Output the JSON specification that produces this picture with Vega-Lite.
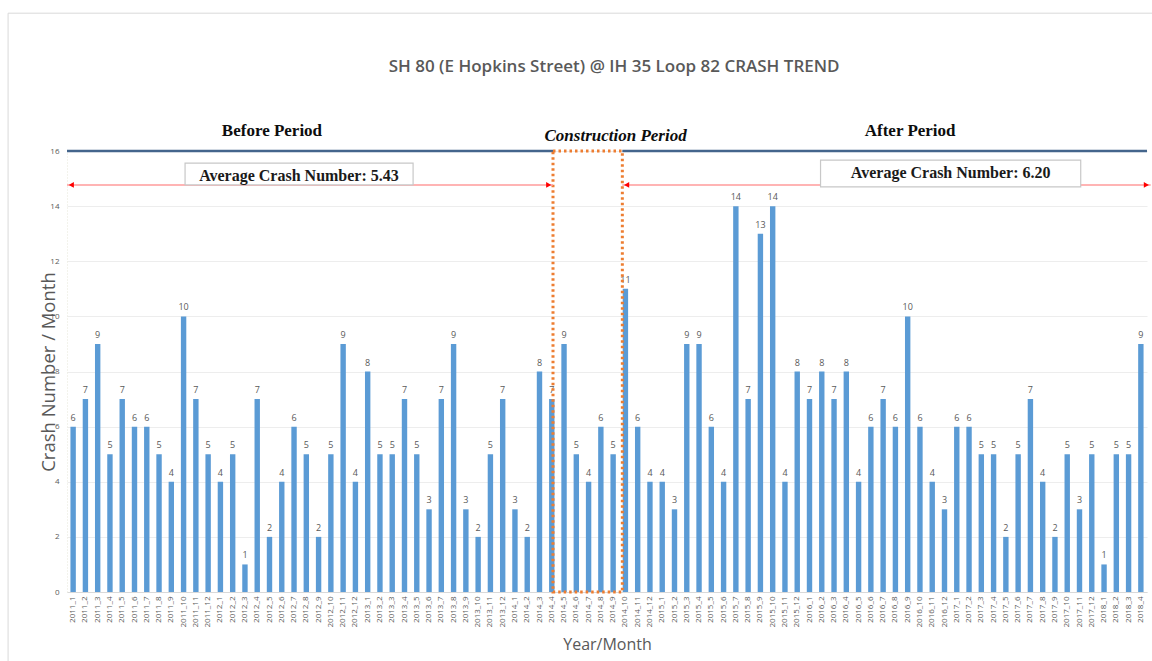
{
  "$schema": "https://vega.github.io/schema/vega-lite/v6.json",
  "autosize": {"type": "none"},
  "width": 1080,
  "height": 441,
  "padding": {"left": 67, "top": 151, "right": 5, "bottom": 69},
  "background": "white",
  "datasets": {
    "crashes": [
      {"month": "2011_1", "crashes": 6}, {"month": "2011_2", "crashes": 7}, {"month": "2011_3", "crashes": 9}, {"month": "2011_4", "crashes": 5},
      {"month": "2011_5", "crashes": 7}, {"month": "2011_6", "crashes": 6}, {"month": "2011_7", "crashes": 6}, {"month": "2011_8", "crashes": 5},
      {"month": "2011_9", "crashes": 4}, {"month": "2011_10", "crashes": 10}, {"month": "2011_11", "crashes": 7}, {"month": "2011_12", "crashes": 5},
      {"month": "2012_1", "crashes": 4}, {"month": "2012_2", "crashes": 5}, {"month": "2012_3", "crashes": 1}, {"month": "2012_4", "crashes": 7},
      {"month": "2012_5", "crashes": 2}, {"month": "2012_6", "crashes": 4}, {"month": "2012_7", "crashes": 6}, {"month": "2012_8", "crashes": 5},
      {"month": "2012_9", "crashes": 2}, {"month": "2012_10", "crashes": 5}, {"month": "2012_11", "crashes": 9}, {"month": "2012_12", "crashes": 4},
      {"month": "2013_1", "crashes": 8}, {"month": "2013_2", "crashes": 5}, {"month": "2013_3", "crashes": 5}, {"month": "2013_4", "crashes": 7},
      {"month": "2013_5", "crashes": 5}, {"month": "2013_6", "crashes": 3}, {"month": "2013_7", "crashes": 7}, {"month": "2013_8", "crashes": 9},
      {"month": "2013_9", "crashes": 3}, {"month": "2013_10", "crashes": 2}, {"month": "2013_11", "crashes": 5}, {"month": "2013_12", "crashes": 7},
      {"month": "2014_1", "crashes": 3}, {"month": "2014_2", "crashes": 2}, {"month": "2014_3", "crashes": 8}, {"month": "2014_4", "crashes": 7},
      {"month": "2014_5", "crashes": 9}, {"month": "2014_6", "crashes": 5}, {"month": "2014_7", "crashes": 4}, {"month": "2014_8", "crashes": 6},
      {"month": "2014_9", "crashes": 5}, {"month": "2014_10", "crashes": 11}, {"month": "2014_11", "crashes": 6}, {"month": "2014_12", "crashes": 4},
      {"month": "2015_1", "crashes": 4}, {"month": "2015_2", "crashes": 3}, {"month": "2015_3", "crashes": 9}, {"month": "2015_4", "crashes": 9},
      {"month": "2015_5", "crashes": 6}, {"month": "2015_6", "crashes": 4}, {"month": "2015_7", "crashes": 14}, {"month": "2015_8", "crashes": 7},
      {"month": "2015_9", "crashes": 13}, {"month": "2015_10", "crashes": 14}, {"month": "2015_11", "crashes": 4}, {"month": "2015_12", "crashes": 8},
      {"month": "2016_1", "crashes": 7}, {"month": "2016_2", "crashes": 8}, {"month": "2016_3", "crashes": 7}, {"month": "2016_4", "crashes": 8},
      {"month": "2016_5", "crashes": 4}, {"month": "2016_6", "crashes": 6}, {"month": "2016_7", "crashes": 7}, {"month": "2016_8", "crashes": 6},
      {"month": "2016_9", "crashes": 10}, {"month": "2016_10", "crashes": 6}, {"month": "2016_11", "crashes": 4}, {"month": "2016_12", "crashes": 3},
      {"month": "2017_1", "crashes": 6}, {"month": "2017_2", "crashes": 6}, {"month": "2017_3", "crashes": 5}, {"month": "2017_4", "crashes": 5},
      {"month": "2017_5", "crashes": 2}, {"month": "2017_6", "crashes": 5}, {"month": "2017_7", "crashes": 7}, {"month": "2017_8", "crashes": 4},
      {"month": "2017_9", "crashes": 2}, {"month": "2017_10", "crashes": 5}, {"month": "2017_11", "crashes": 3}, {"month": "2017_12", "crashes": 5},
      {"month": "2018_1", "crashes": 1}, {"month": "2018_2", "crashes": 5}, {"month": "2018_3", "crashes": 5}, {"month": "2018_4", "crashes": 9}
    ],
    "frame": [{"x": -4.8, "x2": 88.6, "y": -2.6, "y2": 21.0}],
    "chartTitle": [{"x": 44.58, "y": 19.05, "label": "SH 80 (E Hopkins Street) @ IH 35 Loop 82 CRASH TREND"}],
    "topLine": [
      {"x": 0, "x2": 39.6, "y": 16},
      {"x": 45.25, "x2": 88, "y": 16}
    ],
    "construction": [{"x": 39.6, "x2": 45.25, "y": 0, "y2": 16}],
    "arrows": [
      {"x": 0, "x2": 39.6, "y": 14.77},
      {"x": 45.25, "x2": 88.3, "y": 14.77}
    ],
    "arrowHeads": [
      {"x": 0.35, "y": 14.77, "dir": "left"},
      {"x": 39.25, "y": 14.77, "dir": "right"},
      {"x": 45.6, "y": 14.77, "dir": "left"},
      {"x": 87.95, "y": 14.77, "dir": "right"}
    ],
    "avgBoxes": [
      {"x": 9.62, "x2": 28.2, "y": 14.77, "y2": 15.56, "tx": 18.9, "ty": 15.1, "label": "Average Crash Number: 5.43"},
      {"x": 61.4, "x2": 82.6, "y": 14.7, "y2": 15.67, "tx": 72.0, "ty": 15.2, "label": "Average Crash Number: 6.20"}
    ],
    "periods": [
      {"x": 16.7, "y": 16.72, "label": "Before Period", "kind": "normal"},
      {"x": 44.7, "y": 16.54, "label": "Construction Period", "kind": "italic"},
      {"x": 68.7, "y": 16.72, "label": "After Period", "kind": "normal"}
    ]
  },
  "layer": [
    {
      "data": {"name": "crashes"},
      "layer": [
        {
          "mark": {"type": "bar", "color": "#5B9BD5"},
          "encoding": {
            "x": {
              "field": "month", "type": "ordinal", "sort": null,
              "scale": {"paddingInner": 0.56, "paddingOuter": 0.28},
              "axis": {
                "title": "Year/Month",
                "titleFont": "Open Sans", "titleFontSize": 16, "titleFontWeight": "normal", "titleColor": "#595959",
                "titlePadding": 10,
                "labelAngle": -90, "labelFont": "Open Sans", "labelFontSize": 8, "labelColor": "#595959",
                "labelPadding": 4, "ticks": false,
                "domainColor": "#D9D9D9", "domainWidth": 1
              }
            },
            "y": {
              "field": "crashes", "type": "quantitative",
              "scale": {"domain": [0, 16], "nice": false},
              "axis": {
                "title": "Crash Number / Month",
                "titleFont": "Open Sans", "titleFontSize": 18.5, "titleFontWeight": "normal", "titleColor": "#595959",
                "titleX": -19, "titleY": 220.5, "titleBaseline": "middle", "titleAlign": "center", "titleAngle": -90,
                "values": [0, 2, 4, 6, 8, 10, 12, 14, 16],
                "labelFont": "Open Sans", "labelFontSize": 8, "labelColor": "#595959", "labelPadding": 8,
                "ticks": false,
                "domain": true, "domainColor": "#E6E6D8", "domainDash": [1, 2],
                "grid": true, "gridColor": "#EDEDED", "gridWidth": 1
              }
            }
          }
        },
        {
          "mark": {"type": "text", "font": "Open Sans", "fontSize": 9, "color": "#595959", "baseline": "bottom", "dy": -4},
          "encoding": {
            "x": {"field": "month", "type": "ordinal", "sort": null},
            "y": {"field": "crashes", "type": "quantitative"},
            "text": {"field": "crashes", "type": "quantitative"}
          }
        }
      ]
    },
    {
      "data": {"name": "frame"},
      "mark": {"type": "rect", "fill": null, "stroke": "#D9D9D9", "strokeWidth": 1, "clip": false},
      "encoding": {
        "x": {"field": "x", "type": "quantitative", "scale": {"domain": [0, 88], "nice": false, "zero": false}, "axis": null},
        "x2": {"field": "x2"},
        "y": {"field": "y", "type": "quantitative"},
        "y2": {"field": "y2"}
      }
    },
    {
      "data": {"name": "chartTitle"},
      "mark": {"type": "text", "font": "Open Sans", "fontSize": 17, "fontWeight": 600, "color": "#595959", "baseline": "middle", "align": "center", "clip": false},
      "encoding": {
        "x": {"field": "x", "type": "quantitative", "scale": {"domain": [0, 88], "nice": false, "zero": false}, "axis": null},
        "y": {"field": "y", "type": "quantitative"},
        "text": {"field": "label"}
      }
    },
    {
      "data": {"name": "topLine"},
      "mark": {"type": "rule", "color": "#44658C", "strokeWidth": 2.5},
      "encoding": {
        "x": {"field": "x", "type": "quantitative", "scale": {"domain": [0, 88], "nice": false, "zero": false}, "axis": null},
        "x2": {"field": "x2"},
        "y": {"field": "y", "type": "quantitative"}
      }
    },
    {
      "data": {"name": "construction"},
      "mark": {"type": "rect", "fill": null, "stroke": "#ED7D31", "strokeWidth": 3, "strokeDash": [2.5, 3]},
      "encoding": {
        "x": {"field": "x", "type": "quantitative", "scale": {"domain": [0, 88], "nice": false, "zero": false}, "axis": null},
        "x2": {"field": "x2"},
        "y": {"field": "y", "type": "quantitative"},
        "y2": {"field": "y2"}
      }
    },
    {
      "data": {"name": "arrows"},
      "mark": {"type": "rule", "color": "#FF9B9B", "strokeWidth": 1.5, "clip": false},
      "encoding": {
        "x": {"field": "x", "type": "quantitative", "scale": {"domain": [0, 88], "nice": false, "zero": false}, "axis": null},
        "x2": {"field": "x2"},
        "y": {"field": "y", "type": "quantitative"}
      }
    },
    {
      "data": {"name": "arrowHeads"},
      "transform": [{"filter": "datum.dir === 'left'"}],
      "mark": {"type": "point", "shape": "triangle-left", "filled": true, "color": "#FF0000", "size": 35, "opacity": 1, "clip": false},
      "encoding": {
        "x": {"field": "x", "type": "quantitative", "scale": {"domain": [0, 88], "nice": false, "zero": false}, "axis": null},
        "y": {"field": "y", "type": "quantitative"}
      }
    },
    {
      "data": {"name": "arrowHeads"},
      "transform": [{"filter": "datum.dir === 'right'"}],
      "mark": {"type": "point", "shape": "triangle-right", "filled": true, "color": "#FF0000", "size": 35, "opacity": 1, "clip": false},
      "encoding": {
        "x": {"field": "x", "type": "quantitative", "scale": {"domain": [0, 88], "nice": false, "zero": false}, "axis": null},
        "y": {"field": "y", "type": "quantitative"}
      }
    },
    {
      "data": {"name": "avgBoxes"},
      "mark": {"type": "rect", "fill": "white", "stroke": "#C8C8C8", "strokeWidth": 1.2},
      "encoding": {
        "x": {"field": "x", "type": "quantitative", "scale": {"domain": [0, 88], "nice": false, "zero": false}, "axis": null},
        "x2": {"field": "x2"},
        "y": {"field": "y", "type": "quantitative"},
        "y2": {"field": "y2"}
      }
    },
    {
      "data": {"name": "avgBoxes"},
      "mark": {"type": "text", "font": "Liberation Serif", "fontSize": 16, "fontWeight": "bold", "color": "#1A1A1A", "baseline": "middle", "align": "center"},
      "encoding": {
        "x": {"field": "tx", "type": "quantitative", "scale": {"domain": [0, 88], "nice": false, "zero": false}, "axis": null},
        "y": {"field": "ty", "type": "quantitative"},
        "text": {"field": "label"}
      }
    },
    {
      "data": {"name": "periods"},
      "transform": [{"filter": "datum.kind === 'normal'"}],
      "mark": {"type": "text", "font": "Liberation Serif", "fontSize": 17, "fontWeight": "bold", "color": "#0D0D0D", "baseline": "middle", "align": "center", "clip": false},
      "encoding": {
        "x": {"field": "x", "type": "quantitative", "scale": {"domain": [0, 88], "nice": false, "zero": false}, "axis": null},
        "y": {"field": "y", "type": "quantitative"},
        "text": {"field": "label"}
      }
    },
    {
      "data": {"name": "periods"},
      "transform": [{"filter": "datum.kind === 'italic'"}],
      "mark": {"type": "text", "font": "Liberation Serif", "fontSize": 17, "fontWeight": "bold", "fontStyle": "italic", "color": "#0D0D0D", "baseline": "middle", "align": "center", "clip": false},
      "encoding": {
        "x": {"field": "x", "type": "quantitative", "scale": {"domain": [0, 88], "nice": false, "zero": false}, "axis": null},
        "y": {"field": "y", "type": "quantitative"},
        "text": {"field": "label"}
      }
    }
  ],
  "resolve": {"scale": {"x": "independent"}, "axis": {"x": "independent"}},
  "config": {"view": {"stroke": null}}
}
